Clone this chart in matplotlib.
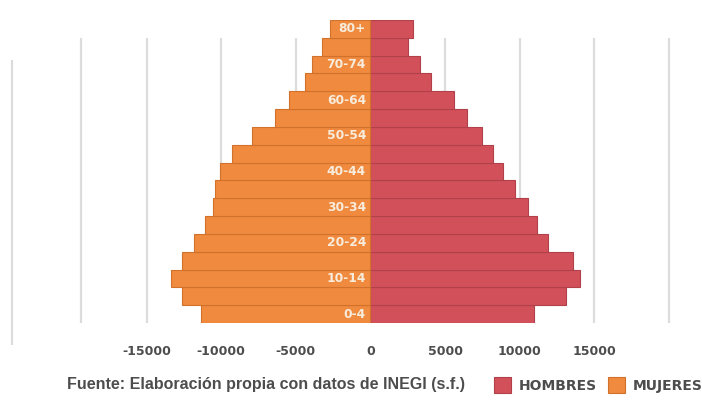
import matplotlib
matplotlib.use('Agg')
import matplotlib.pyplot as plt

# grupos de edad, de abajo hacia arriba
grupos = ['0-4', '5-9', '10-14', '15-19', '20-24', '25-29', '30-34', '35-39',
          '40-44', '45-49', '50-54', '55-59', '60-64', '65-69', '70-74', '75-79', '80+']
hombres = [10930, 13110, 14050, 13550, 11890, 11150, 10550, 9710,
           8850, 8180, 7450, 6450, 5600, 4070, 3290, 2510, 2850]
mujeres = [11360, 12600, 13380, 12600, 11860, 11070, 10540, 10400,
           10070, 9280, 7940, 6380, 5480, 4360, 3910, 3240, 2680]
ticks = [-15000, -10000, -5000, 0, 5000, 10000, 15000]
grid_x = [-19400, -15000, -10000, -5000, 5000, 10000, 15000, 20000]

ROJO = '#d2505a'
NARANJA = '#ef8a3e'
GRIS = '#4d4d4d'

fig = plt.figure(figsize=(7.02, 4.04), dpi=100)
ax = fig.add_axes([0, 81 / 404, 1, 303 / 404])

y = list(range(len(grupos)))
ax.vlines(grid_x, -0.5, 15.49, color='#dcdcdc', lw=1.6, zorder=0)
ax.vlines([-24000], -1.73, 14.26, color='#dcdcdc', lw=1.6, zorder=0, clip_on=False)

b_h = ax.barh(y, hombres, height=1.0, color=ROJO, edgecolor='#b0404a', lw=0.8, label='HOMBRES', zorder=2)
b_m = ax.barh(y, [-v for v in mujeres], height=1.0, color=NARANJA, edgecolor='#d0722c', lw=0.8, label='MUJERES', zorder=2)

# etiquetas de grupos (una si, una no) dentro de las barras
for i in range(0, len(grupos), 2):
    ax.text(-300, y[i], grupos[i], ha='right', va='center', color='#f8ecdc',
            fontsize=8.8, fontweight='bold', zorder=3)

ax.set_xlim(-24830, 22220)
ax.set_ylim(-0.5, 16.5)
ax.set_xticks(ticks)
ax.set_xticklabels([str(t) for t in ticks])
ax.set_yticks([])
ax.tick_params(axis='x', length=0, pad=16, labelsize=9, labelcolor=GRIS)
for lab in ax.get_xticklabels():
    lab.set_fontweight('bold')
for s in ax.spines.values():
    s.set_visible(False)

fig.text(67 / 702, (404 - 384) / 404, 'Fuente: Elaboración propia con datos de INEGI (s.f.)',
         ha='left', va='center', fontsize=11.5, fontweight='bold', color=GRIS,
         family='Liberation Sans')

fig.legend(handles=[b_h, b_m], loc='center left', bbox_to_anchor=(494 / 702, (404 - 385) / 404),
           ncol=2, frameon=False, borderpad=0, borderaxespad=0, handlelength=1.25,
           handleheight=1.35, handletextpad=0.55, columnspacing=0.75,
           prop={'weight': 'bold', 'size': 10}, labelcolor=GRIS)

fig.savefig('out.png', dpi=100)
